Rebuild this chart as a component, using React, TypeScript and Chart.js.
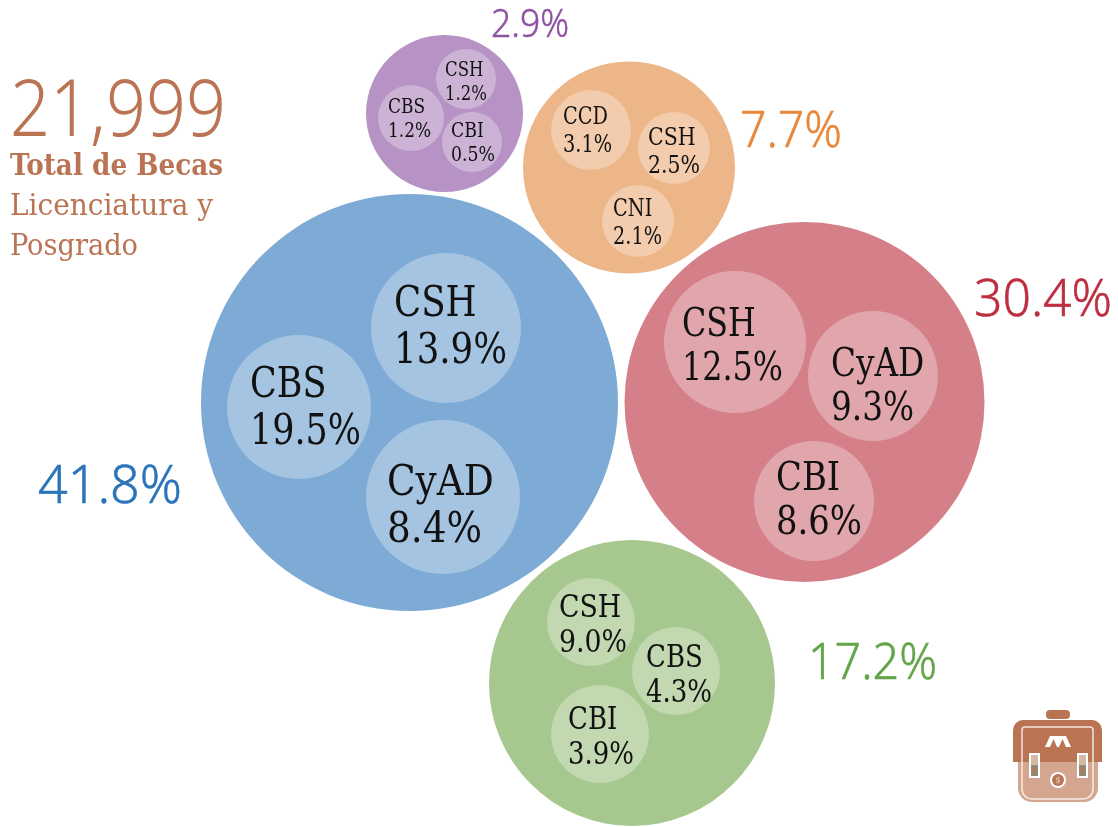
import React, { useEffect, useRef } from "react";
import { Chart, registerables, BubbleController } from "chart.js";

Chart.register(...registerables);
// The bubbles are laid out across the whole canvas, so no extra inset is wanted for their radii.
(BubbleController.prototype as any).getMaxOverflow = () => 0;

// Outer bubbles
const outerShares = ["41.8%", "30.4%", "17.2%", "7.7%", "2.9%"];
const outerX = [409.5, 804.5, 632, 629, 444.5];
const outerY = [402.5, 402, 683, 167.5, 113.5];
const outerR = [208.5, 180, 143, 106, 78.5];

// Inner bubbles, by parent index
const innerParent = [0, 0, 0, 1, 1, 1, 2, 2, 2, 3, 3, 3, 4, 4, 4];
const innerNames = ["CSH", "CBS", "CyAD", "CSH", "CyAD", "CBI", "CSH", "CBS", "CBI", "CCD", "CSH", "CNI", "CSH", "CBS", "CBI"];
const innerShares = ["13.9%", "19.5%", "8.4%", "12.5%", "9.3%", "8.6%", "9.0%", "4.3%", "3.9%", "3.1%", "2.5%", "2.1%", "1.2%", "1.2%", "0.5%"];
const innerX = [446, 299, 443, 735, 873, 814, 591, 676, 600, 591, 674, 638, 466, 411, 472];
const innerY = [328, 407, 497, 342, 376, 501, 622, 671, 734, 130, 148, 221, 79, 118, 142];
const innerR = [75, 72, 77, 71, 65, 60, 44, 44, 49, 40, 36, 36, 30, 33, 30];

const totalValue = "21,999";
const totalLines = ["Total de Becas", "Licenciatura y", "Posgrado"];

const fillColors = ["#7eabd6", "#d58089", "#a6c88f", "#edb688", "#b792c4"];
const textColors = ["#2b74b9", "#be2e41", "#62a549", "#e8873a", "#8e52a3"];
const brown = "#ba7353";
const SLAB = '"DejaVu Serif Condensed", "DejaVu Serif"';
const LIGHT = '"Noto Sans"';

// Text layout (pixels), kept apart from the data above
const groupFontSize = [42, 39, 31, 25, 21];
const labelLeft = [394, 250, 387, 682, 831, 776, 559, 646, 568, 563, 648, 613, 445, 388, 451];
const labelBase = [316, 397, 495, 336, 376, 490, 617, 667, 729, 124, 145, 216, 76, 113, 137];
const labelLine = [47, 47, 47, 44, 44, 44, 35, 35, 35, 27.5, 27.5, 27.5, 23.5, 23.5, 23.5];
const labelWidth = [113, 111, 95, 101, 83, 86, 68, 66, 66, 49, 52, 49, 42, 43, 44];
const shareLeft = [38, 974, 808, 740, 491];
const shareRight = [182, 1112, 937, 842, 569];
const shareBase = [503, 316, 679, 147, 37];
const shareSize = [53, 51, 50, 50, 39];

function fitText(ctx: CanvasRenderingContext2D, s: string, left: number, right: number, base: number, thicken = 0) {
  const w = ctx.measureText(s).width;
  ctx.save();
  ctx.translate(left, base);
  ctx.scale((right - left) / w, 1);
  ctx.fillText(s, 0, 0);
  if (thicken > 0) {
    ctx.strokeStyle = ctx.fillStyle;
    ctx.lineWidth = thicken;
    ctx.strokeText(s, 0, 0);
  }
  ctx.restore();
}

function rr(ctx: CanvasRenderingContext2D, x: number, y: number, w: number, h: number, r: number[]) {
  ctx.beginPath();
  ctx.roundRect(x, y, w, h, r);
}

function drawIcon(ctx: CanvasRenderingContext2D) {
  ctx.save();
  ctx.fillStyle = brown;
  rr(ctx, 1046, 710, 24, 9, [4, 4, 4, 4]);
  ctx.fill();
  rr(ctx, 1013, 720, 89, 42, [10, 10, 0, 0]);
  ctx.fill();
  ctx.fillStyle = "#d4a690";
  rr(ctx, 1018, 762, 80, 40, [0, 0, 14, 14]);
  ctx.fill();
  ctx.strokeStyle = "rgba(255,255,255,0.8)";
  ctx.lineWidth = 1.5;
  rr(ctx, 1022, 727, 71, 72, [3, 3, 10, 10]);
  ctx.stroke();
  for (const bx of [1030, 1078]) {
    ctx.fillStyle = "#fff";
    ctx.fillRect(bx - 1, 753, 11, 25);
    ctx.fillStyle = "#d2b9a6";
    ctx.fillRect(bx + 1, 755, 7, 10);
    ctx.fillStyle = "#8d8a76";
    ctx.fillRect(bx + 1, 765, 7, 11);
    ctx.fillStyle = brown;
    ctx.fillRect(bx + 3, 768, 3, 5);
  }
  ctx.beginPath();
  ctx.arc(1058, 780, 8, 0, Math.PI * 2);
  ctx.fillStyle = "#fff";
  ctx.fill();
  ctx.beginPath();
  ctx.arc(1058, 780, 6, 0, Math.PI * 2);
  ctx.fillStyle = brown;
  ctx.fill();
  ctx.fillStyle = "#e8cdbd";
  ctx.font = `9px ${SLAB}`;
  ctx.textAlign = "center";
  ctx.textBaseline = "middle";
  ctx.fillText("$", 1058, 780.5);
  ctx.fillStyle = "#fff";
  ctx.beginPath();
  ctx.moveTo(1045, 747);
  ctx.lineTo(1050, 736);
  ctx.lineTo(1066, 736);
  ctx.lineTo(1071, 747);
  ctx.closePath();
  ctx.fill();
  ctx.fillStyle = brown;
  for (const tx of [1052, 1061]) {
    ctx.beginPath();
    ctx.moveTo(tx - 2, 747);
    ctx.lineTo(tx + 1.5, 739);
    ctx.lineTo(tx + 5, 747);
    ctx.closePath();
    ctx.fill();
  }
  ctx.restore();
}

const textPlugin = {
  id: "bubbleText",
  afterDatasetsDraw(chart: any) {
    const ctx: CanvasRenderingContext2D = chart.ctx;
    ctx.save();
    ctx.textBaseline = "alphabetic";
    ctx.textAlign = "left";

    // inner labels
    innerNames.forEach((name, i) => {
      const size = groupFontSize[innerParent[i]];
      ctx.font = `${size}px ${SLAB}`;
      ctx.fillStyle = "#111";
      const sw = ctx.measureText(innerShares[i]).width;
      const k = labelWidth[i] / sw;
      const nw = ctx.measureText(name).width;
      fitText(ctx, name, labelLeft[i], labelLeft[i] + nw * k, labelBase[i]);
      fitText(ctx, innerShares[i], labelLeft[i], labelLeft[i] + labelWidth[i], labelBase[i] + labelLine[i]);
    });

    // group percentages
    outerShares.forEach((s, i) => {
      ctx.font = `300 ${shareSize[i]}px ${LIGHT}`;
      ctx.fillStyle = textColors[i];
      fitText(ctx, s, shareLeft[i], shareRight[i], shareBase[i], 0.5);
    });

    // total block
    ctx.fillStyle = brown;
    ctx.font = `300 80px ${LIGHT}`;
    fitText(ctx, totalValue, 10, 226, 136);
    ctx.font = `bold 29px ${SLAB}`;
    fitText(ctx, totalLines[0], 10, 223, 175);
    ctx.font = `30px ${SLAB}`;
    fitText(ctx, totalLines[1], 10, 213, 215);
    fitText(ctx, totalLines[2], 10, 138, 255);

    drawIcon(ctx);
    ctx.restore();
  },
};

export default function App() {
  const ref = useRef<HTMLCanvasElement>(null);
  useEffect(() => {
    const chart = new Chart(ref.current!, {
      type: "bubble",
      data: {
        datasets: [
          {
            label: "Divisiones",
            data: innerNames.map((_, i) => ({ x: innerX[i], y: innerY[i], r: innerR[i] })),
            backgroundColor: "rgba(255,255,255,0.3)",
            borderWidth: 0,
            clip: false,
          },
          {
            label: "Unidades",
            data: outerShares.map((_, i) => ({ x: outerX[i], y: outerY[i], r: outerR[i] })),
            backgroundColor: fillColors,
            borderWidth: 0,
            clip: false,
          },
        ],
      } as any,
      options: {
        animation: false,
        responsive: false,
        layout: { padding: 0 },
        plugins: { legend: { display: false }, tooltip: { enabled: false } },
        scales: {
          x: { type: "linear", min: 0, max: 1118, display: false },
          y: { type: "linear", min: 0, max: 827, reverse: true, display: false },
        },
      },
      plugins: [textPlugin],
    });
    return () => chart.destroy();
  }, []);
  return (
    <div style={{ position: "absolute", left: 0, top: 0, width: 1118, height: 827, background: "#fff" }}>
      <canvas ref={ref} width={1118} height={827} style={{ display: "block" }} />
    </div>
  );
}
